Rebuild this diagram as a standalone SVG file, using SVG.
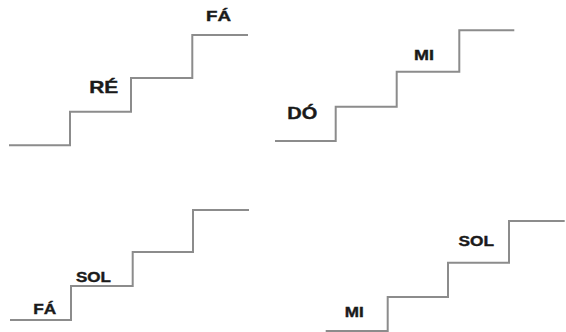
<svg xmlns="http://www.w3.org/2000/svg" width="566" height="332" viewBox="0 0 566 332">
<style>
.stair{fill:none;stroke:#8c8c8c;stroke-width:2;stroke-linejoin:miter}
.lbl{font-family:"Liberation Sans",Arial,sans-serif;font-weight:bold;font-size:15px;fill:#1a1a1a;stroke:#1a1a1a;stroke-width:0.4}
.big{font-size:16.5px}
</style>
<rect width="566" height="332" fill="#ffffff"/>
<g id="connectors">
<path id="stairs1" class="stair" d="M9,145.3 H70 V111.7 H131 V78 H192.3 V35 H248"/>
<path id="stairs2" class="stair" d="M275,141 H335.7 V106.7 H396.7 V71.7 H459.3 V30.3 H514.3"/>
<path id="stairs3" class="stair" d="M10,320 H71 V286 H132.7 V252 H193 V210 H249"/>
<path id="stairs4" class="stair" d="M325.7,331 H387.7 V297 H448 V262.7 H509 V221 H564.7"/>
</g>
<g id="label-re"><text class="lbl big" x="89.3" y="93.3" textLength="29" lengthAdjust="spacingAndGlyphs">RÉ</text></g>
<g id="label-fa1"><text class="lbl" x="206" y="20.7" textLength="25" lengthAdjust="spacingAndGlyphs">FÁ</text></g>
<g id="label-do"><text class="lbl big" x="287.3" y="119.3" textLength="30" lengthAdjust="spacingAndGlyphs">DÓ</text></g>
<g id="label-mi1"><text class="lbl" x="414" y="59.5" textLength="20" lengthAdjust="spacingAndGlyphs">MI</text></g>
<g id="label-sol1"><text class="lbl" x="76" y="281.7" textLength="35" lengthAdjust="spacingAndGlyphs">SOL</text></g>
<g id="label-fa2"><text class="lbl" x="33.3" y="314.3" textLength="23" lengthAdjust="spacingAndGlyphs">FÁ</text></g>
<g id="label-sol2"><text class="lbl" x="458.5" y="246" textLength="35.5" lengthAdjust="spacingAndGlyphs">SOL</text></g>
<g id="label-mi2"><text class="lbl" x="344.7" y="317" textLength="19" lengthAdjust="spacingAndGlyphs">MI</text></g>
</svg>
